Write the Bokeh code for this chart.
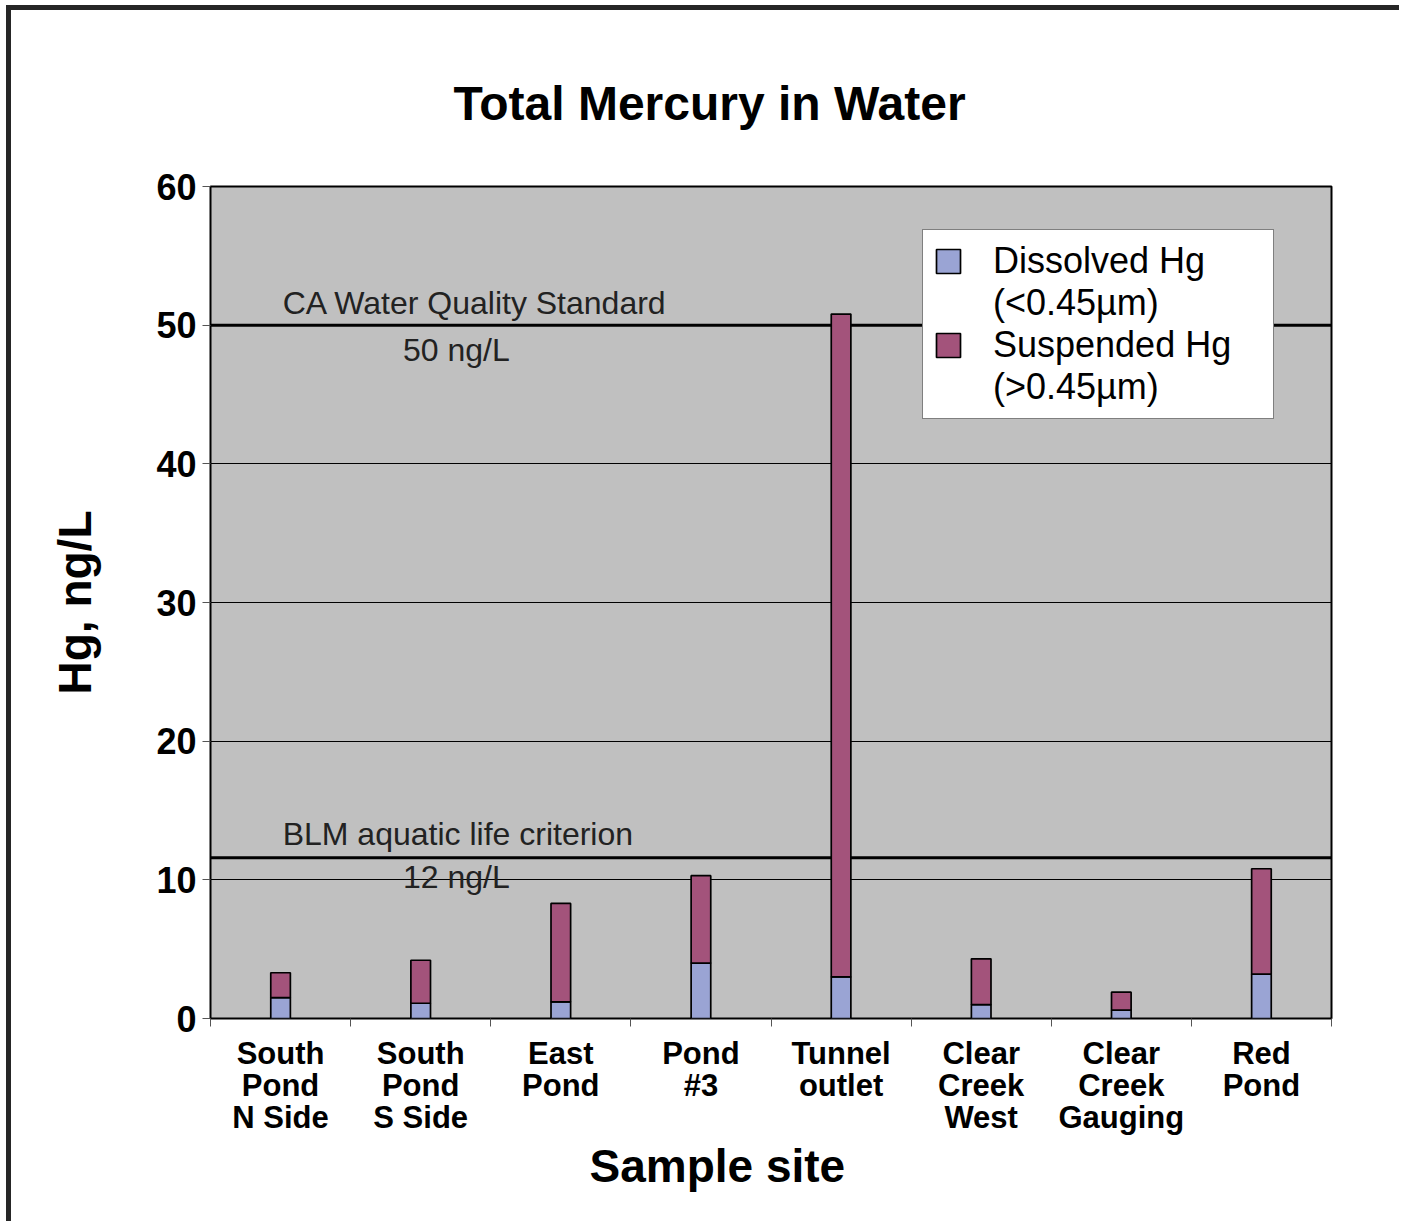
import numpy as np
from bokeh.plotting import figure
from bokeh.models import (FixedTicker, Legend, LegendItem, Span, Label, Range1d, Title)
from bokeh.embed import file_html
from bokeh.resources import INLINE

# ---- data ----
sites = ["South\nPond\nN Side", "South\nPond\nS Side", "East\nPond", "Pond\n#3",
         "Tunnel\noutlet", "Clear\nCreek\nWest", "Clear\nCreek\nGauging", "Red\nPond"]
dissolved = [1.5, 1.1, 1.2, 4.0, 3.0, 1.0, 0.6, 3.2]
suspended = [1.8, 3.1, 7.1, 6.3, 47.8, 3.3, 1.3, 7.6]
y_ticks = [0, 10, 20, 30, 40, 50, 60]
ca_standard = 50
blm_criterion = 11.6
legend_lines = [("Dissolved Hg", "(<0.45\u00b5m)"), ("Suspended Hg", "(>0.45\u00b5m)")]

FONT = "Liberation Sans"
C_DIS = "#9AA4D4"
C_SUS = "#A3537B"

n = len(sites)
xs = np.arange(n) + 0.5
total = [d + s for d, s in zip(dissolved, suspended)]

p = figure(width=1393, height=1216, output_backend="svg", toolbar_location=None,
           x_range=Range1d(0, n), y_range=Range1d(0, 60),
           min_border_left=199, min_border_right=73, min_border_top=176, min_border_bottom=208)
p.styles = {"border-left": "5px solid #262626", "border-top": "5px solid #262626",
            "margin-left": "6px", "margin-top": "5px"}

p.background_fill_color = "#C0C0C0"
p.border_fill_color = "white"
p.outline_line_color = "black"
p.outline_line_width = 2

# title
p.title.text = "Total Mercury in Water"
p.title.text_font = FONT
p.title.text_font_size = "48px"
p.title.text_font_style = "bold"
p.title.text_color = "black"
p.title.align = "left"
p.title.offset = 243
p.title.standoff = 113

# grids
p.xgrid.grid_line_color = None
p.ygrid.ticker = FixedTicker(ticks=y_ticks)
p.ygrid.grid_line_color = "black"
p.ygrid.grid_line_width = 1

# y axis
p.yaxis.ticker = FixedTicker(ticks=y_ticks)
p.yaxis.axis_line_color = None
p.yaxis.major_tick_out = 8
p.yaxis.major_tick_in = 0
p.yaxis.major_tick_line_color = "#555555"
p.yaxis.minor_tick_line_color = None
p.yaxis.major_label_text_font = FONT
p.yaxis.major_label_text_font_size = "36px"
p.yaxis.major_label_text_font_style = "bold"
p.yaxis.major_label_text_color = "black"
p.yaxis.major_label_standoff = 6
p.yaxis.axis_label = "Hg, ng/L"
p.yaxis.axis_label_text_font = FONT
p.yaxis.axis_label_text_font_size = "46px"
p.yaxis.axis_label_text_font_style = "bold"
p.yaxis.axis_label_text_color = "black"
p.yaxis.axis_label_standoff = 52

# x axis
p.xaxis.ticker = FixedTicker(ticks=list(xs), minor_ticks=list(range(n + 1)))
p.xaxis.major_label_overrides = {float(x): s for x, s in zip(xs, sites)}
p.xaxis.axis_line_color = None
p.xaxis.major_tick_out = 0
p.xaxis.major_tick_in = 0
p.xaxis.major_tick_line_color = None
p.xaxis.minor_tick_out = 8
p.xaxis.minor_tick_in = 0
p.xaxis.minor_tick_line_color = "#555555"
p.xaxis.major_label_text_font = FONT
p.xaxis.major_label_text_font_size = "31px"
p.xaxis.major_label_text_font_style = "bold"
p.xaxis.major_label_text_color = "black"
p.xaxis.major_label_text_line_height = 0.92
p.xaxis.major_label_standoff = 9

p.add_layout(Title(text="Sample site", align="left", offset=379, text_font=FONT,
                   text_font_size="46px", text_font_style="bold", text_color="black",
                   standoff=0), "below")

# reference lines (behind the bars)
p.add_layout(Span(location=ca_standard, dimension="width", line_color="black",
                  line_width=3, level="underlay"))
p.add_layout(Span(location=blm_criterion, dimension="width", line_color="black",
                  line_width=3, level="underlay"))

lab_kw = dict(text_font=FONT, text_font_size="32px", text_color="#222222", text_baseline="middle")
p.add_layout(Label(x=0.515, y=ca_standard + 1.6, text="CA Water Quality Standard", **lab_kw))
p.add_layout(Label(x=1.755, y=ca_standard - 1.8, text="50 ng/L", text_align="center", **lab_kw))
p.add_layout(Label(x=0.515, y=blm_criterion + 1.7, text="BLM aquatic life criterion", **lab_kw))
p.add_layout(Label(x=1.755, y=blm_criterion - 1.4, text="12 ng/L", text_align="center", **lab_kw))

# bars
r1 = p.vbar(x=xs, width=0.14, bottom=0, top=dissolved, fill_color=C_DIS,
            line_color="black", line_width=1.7)
r2 = p.vbar(x=xs, width=0.14, bottom=dissolved, top=total, fill_color=C_SUS,
            line_color="black", line_width=1.7)
blank = p.vbar(x=[], width=0.14, top=[], fill_alpha=0, line_alpha=0)

items = []
for (l1, l2), r in zip(legend_lines, [r1, r2]):
    items.append(LegendItem(label=l1, renderers=[r]))
    items.append(LegendItem(label=l2, renderers=[blank]))

legend = Legend(items=items, location=(712, 599))
legend.background_fill_color = "white"
legend.background_fill_alpha = 1
legend.border_line_color = "black"
legend.border_line_width = 1.5
legend.label_text_font = FONT
legend.label_text_font_size = "36px"
legend.label_text_color = "black"
legend.glyph_width = 30
legend.glyph_height = 30
legend.label_standoff = 30
legend.padding = 10
legend.spacing = 0
legend.margin = 0
legend.label_width = 270
p.add_layout(legend)

open("out.html", "w").write(file_html(p, INLINE))
